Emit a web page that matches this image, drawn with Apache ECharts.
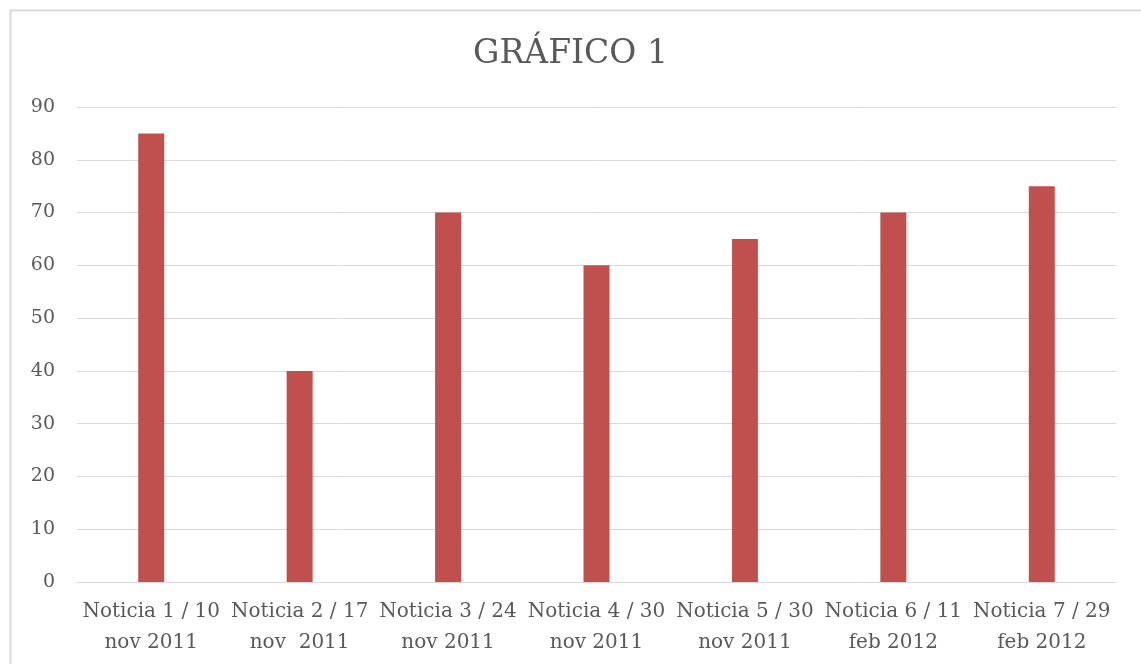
<!DOCTYPE html>
<html>
<head>
<meta charset="utf-8">
<script src="https://cdn.jsdelivr.net/npm/echarts@6/dist/echarts.min.js"></script>
<style>
  html, body { margin: 0; padding: 0; background: #fff; }
  #mainChart { width: 1141px; height: 664px; }
</style>
</head>
<body>
<div id="mainChart"></div>
<script>
const categories = [
  "Noticia 1 / 10\nnov 2011",
  "Noticia 2 / 17\nnov  2011",
  "Noticia 3 / 24\nnov 2011",
  "Noticia 4 / 30\nnov 2011",
  "Noticia 5 / 30\nnov 2011",
  "Noticia 6 / 11\nfeb 2012",
  "Noticia 7 / 29\nfeb 2012",
];
const values = [85, 40, 70, 60, 65, 70, 75];

const textColor = "#595959";
const fontFamily = "'DejaVu Serif', serif";

const myChart = echarts.init(document.getElementById("mainChart"));
const option = {
  animation: false,
  backgroundColor: "#fff",
  title: {
    text: "GRÁFICO 1",
    left: "center",
    top: 33,
    textStyle: {
      color: textColor,
      fontFamily: fontFamily,
      fontSize: 33,
      fontWeight: "normal",
    },
  },
  graphic: [
    {
      type: "rect",
      shape: { x: 10.5, y: 10.5, width: 1200, height: 700 },
      style: { fill: "none", stroke: "#d9d9d9", lineWidth: 2 },
      silent: true,
    },
  ],
  grid: {
    left: 77,
    right: 25,
    top: 107,
    bottom: 82,
  },
  xAxis: {
    type: "category",
    data: categories,
    axisTick: { show: false },
    axisLine: { lineStyle: { color: "#d9d9d9", width: 1 } },
    axisLabel: {
      interval: 0,
      color: textColor,
      fontFamily: fontFamily,
      fontSize: 20,
      lineHeight: 31,
      margin: 14,
    },
  },
  yAxis: {
    type: "value",
    min: 0,
    max: 90,
    interval: 10,
    axisLine: { show: false },
    axisTick: { show: false },
    splitLine: { lineStyle: { color: "#d9d9d9", width: 1 } },
    axisLabel: {
      color: textColor,
      fontFamily: fontFamily,
      fontSize: 19,
      margin: 22,
    },
  },
  series: [
    {
      type: "bar",
      data: values,
      barWidth: 26,
      itemStyle: { color: "#c0504d" },
    },
  ],
};
myChart.setOption(option);
</script>
</body>
</html>
